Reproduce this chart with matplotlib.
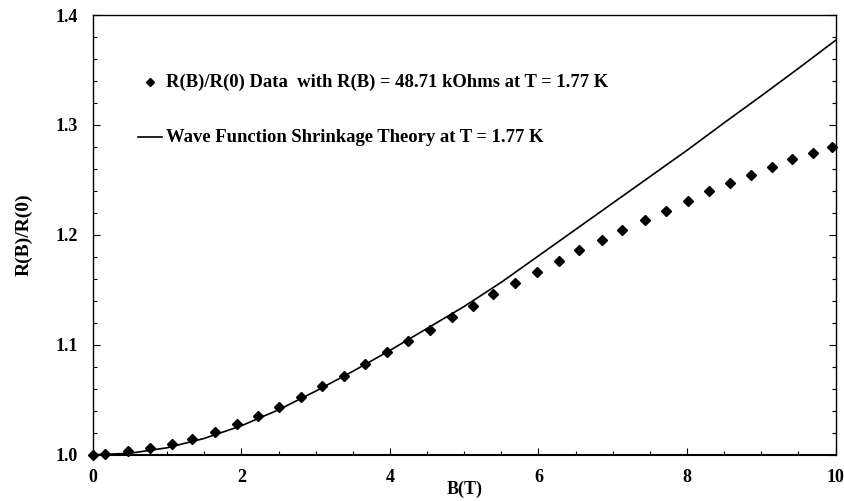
#!/usr/bin/env python3
import numpy as np
import matplotlib
matplotlib.use('Agg')
import matplotlib.pyplot as plt
from matplotlib.ticker import MultipleLocator

plt.rcParams['font.family'] = 'Liberation Serif'
plt.rcParams['font.weight'] = 'bold'
plt.rcParams['font.size'] = 13

# measured R(B)/R(0) points
b_data = [0.0, 0.17, 0.47, 0.77, 1.06, 1.34, 1.64, 1.94, 2.22, 2.51,
          2.80, 3.08, 3.38, 3.67, 3.96, 4.24, 4.54, 4.83, 5.12, 5.39,
          5.69, 5.98, 6.27, 6.55, 6.85, 7.13, 7.43, 7.72, 8.01, 8.30,
          8.58, 8.86, 9.15, 9.41, 9.69, 9.95]
r_data = [1.000, 1.001, 1.0036, 1.0066, 1.0103, 1.0148, 1.0212, 1.0279, 1.0357, 1.0439,
          1.053, 1.0627, 1.0718, 1.0825, 1.0934, 1.1036, 1.1136, 1.1252, 1.1355, 1.1461,
          1.1566, 1.1664, 1.1766, 1.1861, 1.1955, 1.2045, 1.2136, 1.2221, 1.2312, 1.2397,
          1.2475, 1.2548, 1.2618, 1.2688, 1.2748, 1.280]

# wave function shrinkage theory curve
b_theory = [0.0, 0.5, 1.0, 1.5, 2.0, 2.5, 3.0, 3.5, 4.0, 4.5, 5.0,
            5.5, 6.0, 6.5, 7.0, 7.5, 8.0, 8.5, 9.0, 9.5, 10.0]
r_theory = [1.000, 1.0015, 1.0065, 1.015, 1.0265, 1.041, 1.058, 1.076, 1.095, 1.115, 1.135,
            1.157, 1.181, 1.205, 1.229, 1.253, 1.277, 1.302, 1.3265, 1.3515, 1.377]

x_ticks = [0, 2, 4, 6, 8, 10]
y_ticks = [1.0, 1.1, 1.2, 1.3, 1.4]

fig = plt.figure(figsize=(8.44, 5.01), dpi=100)
ax = fig.add_axes([0.110, 0.092, 0.880, 0.878])

ax.plot(b_theory, r_theory, 'k-', linewidth=1.2)
ax.plot(b_data, r_data, 'kD', markersize=5, clip_on=False)

ax.set_xlim(0, 10)
ax.set_ylim(1.0, 1.4)
ax.set_xticks(x_ticks)
ax.set_yticks(y_ticks)
ax.set_xticklabels([str(v) for v in x_ticks])
ax.set_yticklabels([f'{v:.1f}' for v in y_ticks])
ax.xaxis.set_minor_locator(MultipleLocator(0.5))
ax.yaxis.set_minor_locator(MultipleLocator(0.02))
ax.tick_params(which='both', direction='in', top=False, right=True,
               labelsize=13, width=0.8)
ax.tick_params(axis='y', which='major', length=5, pad=11)
ax.tick_params(axis='x', which='major', length=5, pad=10)
ax.tick_params(which='minor', length=3)
for s in ax.spines.values():
    s.set_linewidth(1.0)
ax.spines['bottom'].set_linewidth(1.5)

ax.set_xlabel('B(T)', fontsize=13, fontweight='bold', labelpad=-4)
ax.set_ylabel('R(B)/R(0)', fontsize=14, fontweight='bold', labelpad=16)

# hand-placed legend
ax.plot([0.0775], [0.848], 'kD', markersize=4, transform=ax.transAxes)
ax.text(0.098, 0.848, 'R(B)/R(0) Data  with R(B) = 48.71 kOhms at T = 1.77 K',
        transform=ax.transAxes, va='center', ha='left', fontsize=13.4,
        fontweight='bold')
ax.plot([0.061, 0.0925], [0.722, 0.722], 'k-', linewidth=1.2,
        transform=ax.transAxes)
ax.text(0.099, 0.722, 'Wave Function Shrinkage Theory at T = 1.77 K',
        transform=ax.transAxes, va='center', ha='left', fontsize=13.4,
        fontweight='bold')

plt.savefig('out.png', dpi=100)
plt.close()
